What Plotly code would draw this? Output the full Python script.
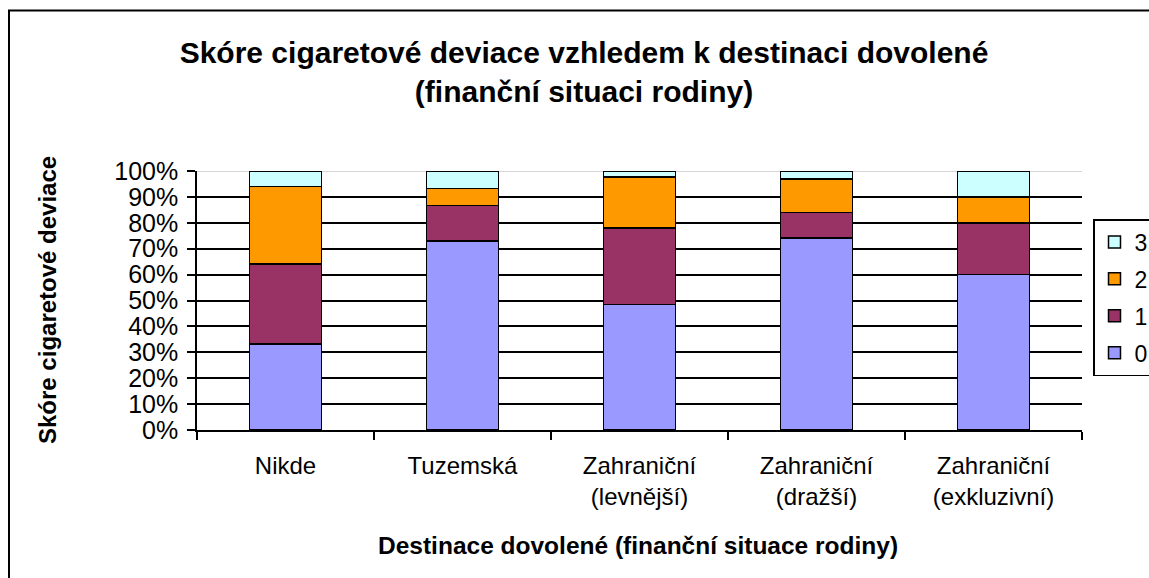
import plotly.graph_objects as go

categories = ["Nikde", "Tuzemská", "Zahraniční<br>(levnější)", "Zahraniční<br>(dražší)", "Zahraniční<br>(exkluzivní)"]
score_0 = [33.3, 72.9, 48.5, 74.2, 60.0]
score_1 = [30.7, 13.8, 29.4, 9.7, 20.0]
score_2 = [30.0, 6.6, 19.8, 13.0, 10.0]
score_3 = [6.0, 6.7, 2.3, 3.1, 10.0]
series_names = ["0", "1", "2", "3"]
series_colors = ["#9999FF", "#993366", "#FF9900", "#CCFFFF"]
y_ticks = list(range(0, 101, 10))
y_ticklabels = [f"{v}%" for v in y_ticks]

FONT = "Liberation Sans, Arial, sans-serif"

fig = go.Figure()
for i, (name, vals, col) in enumerate(zip(series_names, [score_0, score_1, score_2, score_3], series_colors)):
    fig.add_trace(go.Bar(
        x=categories, y=vals, name=name, legendgroup=name, legendrank=10 - i,
        marker=dict(color=col, line=dict(color="black", width=1.5)),
    ))

W, H = 1149, 578
L, R, T, B = 197, 67, 171, 148
pw, ph = W - L - R, H - T - B

def px_x(p):
    return (p - L) / pw

def px_y(p):
    return (H - B - p) / ph

fig.update_layout(
    width=W, height=H,
    barmode="stack", bargap=0.595,
    paper_bgcolor="white", plot_bgcolor="white",
    margin=dict(l=L, r=R, t=T, b=B, autoexpand=False),
    font=dict(family=FONT, color="black", size=24),
    title=dict(
        text="<b>Skóre cigaretové deviace vzhledem k destinaci dovolené<br>(finanční situaci rodiny)</b>",
        x=584 / W, xanchor="center", xref="container",
        y=1 - 63 / H, yanchor="middle", yref="container",
        font=dict(family=FONT, size=30, color="black"),
    ),
    xaxis=dict(
        showline=True, linecolor="black", linewidth=1.5,
        ticks="outside", tickson="boundaries", ticklen=8, tickcolor="black", tickwidth=1.5,
        ticklabelstandoff=13,
        tickfont=dict(size=24), showgrid=False,
    ),
    yaxis=dict(
        range=[0, 100], tickvals=y_ticks, ticktext=y_ticklabels,
        showline=True, linecolor="black", linewidth=1.5,
        ticks="outside", ticklen=8, tickcolor="black", tickwidth=1.5,
        ticklabelstandoff=4,
        showgrid=True, gridcolor="black", gridwidth=1.5,
        tickfont=dict(size=25), zeroline=False,
    ),
    legend=dict(
        x=px_x(1093), y=px_y(219), xanchor="left", yanchor="top",
        traceorder="grouped", tracegroupgap=4, itemwidth=30,
        bordercolor="black", borderwidth=1.5, bgcolor="white",
        font=dict(size=23),
    ),
    annotations=[
        dict(text="<b>Destinace dovolené (finanční situace rodiny)</b>",
             xref="paper", yref="paper", x=px_x(638), y=px_y(545),
             xanchor="center", yanchor="middle", showarrow=False,
             font=dict(size=24.5)),
        dict(text="<b>Skóre cigaretové deviace</b>",
             xref="paper", yref="paper", x=px_x(47), y=px_y(300),
             xanchor="center", yanchor="middle", textangle=-90, showarrow=False,
             font=dict(size=24)),
    ],
    shapes=[
        dict(type="rect", xref="paper", yref="paper",
             x0=px_x(9), y0=px_y(600), x1=px_x(1170), y1=px_y(10.5),
             line=dict(color="black", width=2), fillcolor="rgba(0,0,0,0)", layer="below"),
        dict(type="line", xref="paper", yref="y", x0=0, x1=1, y0=100, y1=100,
             line=dict(color="#C8C8C8", width=1.5), layer="below"),
    ],
)

fig.write_html("out.html", config={"displayModeBar": False},
               post_script="document.body.style.margin='0';document.body.style.overflow='hidden';")
